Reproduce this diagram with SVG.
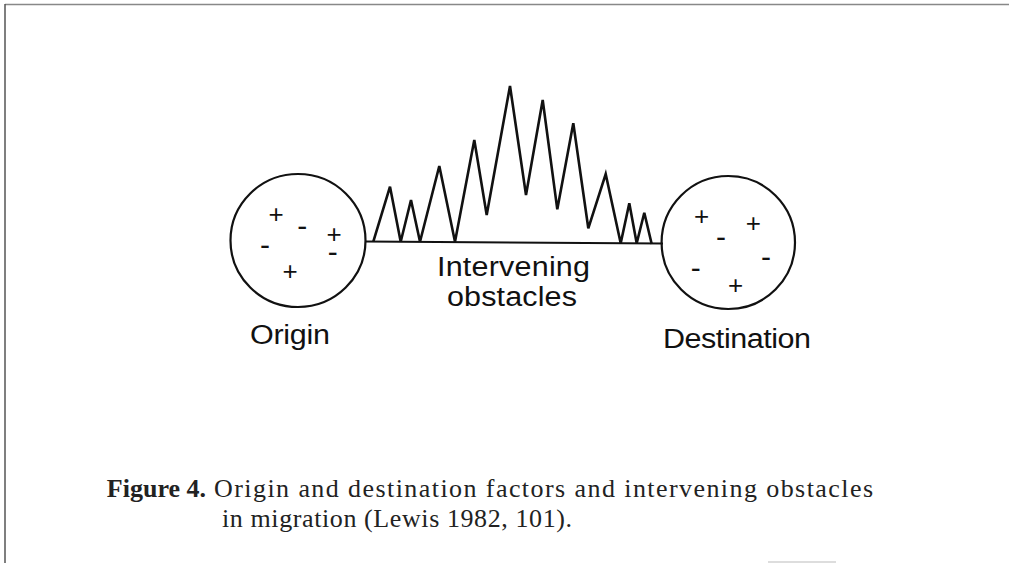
<svg xmlns="http://www.w3.org/2000/svg" width="1009" height="563" viewBox="0 0 1009 563">
<style>
.frame{fill:none;stroke-width:1.5}
.circ{fill:none;stroke:#111;stroke-width:2.2}
.base{fill:none;stroke:#111;stroke-width:2}
.spikes{fill:none;stroke:#111;stroke-width:2.6;stroke-linejoin:miter}
.sign{font-family:"Liberation Sans",Arial,sans-serif;fill:#111;text-anchor:middle}
.plus{font-size:26px}
.minus{font-size:30px}
.lbl{font-family:"Liberation Sans",Arial,sans-serif;font-size:27px;fill:#111}
.cap{font-family:"Liberation Serif","Times New Roman",serif;font-size:26px;fill:#222}
.capb{font-weight:bold}
</style>
<rect width="1009" height="563" fill="#fff"/>
<g id="frame">
<line class="frame" x1="5" y1="4.5" x2="1009" y2="4.5" stroke="#888"/>
<line class="frame" x1="5" y1="4" x2="5" y2="563" stroke="#555"/>
<line x1="768" y1="562" x2="836" y2="562" stroke="#ddd" stroke-width="2"/>
</g>
<g id="connectors">
<line class="base" x1="365" y1="241.5" x2="663" y2="243.5"/>
</g>
<g id="obstacles">
<polyline class="spikes" points="373.3,241.7 390,186.7 400.7,241.7 411,200 420,241.7 439.3,166 455,241.7 474.3,140 486.7,215 510,86 526,195 542.7,100 557.3,209.3 573.3,123.3 588.3,228.3 605.7,174 620.7,243.3 629.3,203.3 636.7,243.3 644.3,212.7 651.7,244"/>
<text class="lbl" transform="translate(437,276) scale(1.13,1)" textLength="135.4" lengthAdjust="spacing">Intervening</text>
<text class="lbl" transform="translate(447,306) scale(1.13,1)" textLength="115" lengthAdjust="spacing">obstacles</text>
</g>
<g id="origin">
<ellipse class="circ" cx="298" cy="240.5" rx="67.5" ry="66.5"/>
<text class="sign plus" x="276" y="222.7">+</text>
<text class="sign minus" x="302.3" y="235.9">-</text>
<text class="sign plus" x="334" y="242.7">+</text>
<text class="sign minus" x="265" y="254.9">-</text>
<text class="sign minus" x="332.7" y="261.5">-</text>
<text class="sign plus" x="290" y="280.1">+</text>
<text class="lbl" transform="translate(250,343.5) scale(1.13,1)" textLength="70.8" lengthAdjust="spacing">Origin</text>
</g>
<g id="destination">
<ellipse class="circ" cx="728.3" cy="242.5" rx="66.7" ry="66.5"/>
<text class="sign plus" x="701.7" y="225.1">+</text>
<text class="sign plus" x="753.3" y="231.7">+</text>
<text class="sign minus" x="721" y="246.5">-</text>
<text class="sign minus" x="766" y="266.5">-</text>
<text class="sign minus" x="695.7" y="277.5">-</text>
<text class="sign plus" x="735.7" y="293.7">+</text>
<text class="lbl" transform="translate(663,348.3) scale(1.13,1)" textLength="131" lengthAdjust="spacing">Destination</text>
</g>
<g id="caption">
<text class="cap capb" x="206" y="497" text-anchor="end">Figure 4.</text>
<text class="cap" x="214" y="497" textLength="659" lengthAdjust="spacing">Origin and destination factors and intervening obstacles</text>
<text class="cap" x="222" y="527" textLength="350" lengthAdjust="spacing">in migration (Lewis 1982, 101).</text>
</g>
</svg>
